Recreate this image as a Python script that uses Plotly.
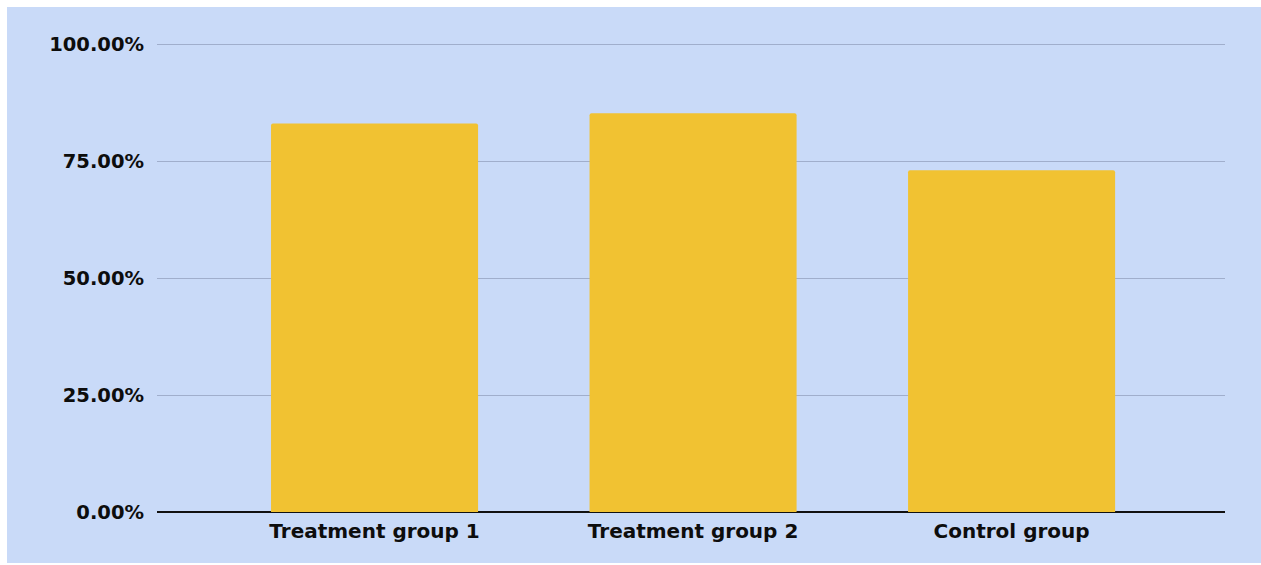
import plotly.graph_objects as go

categories = ["Treatment group 1", "Treatment group 2", "Control group"]
values = [0.830, 0.852, 0.730]
y_ticks = [0, 0.25, 0.5, 0.75, 1.0]

W, H = 1261, 565
ML, MR, MT, MB = 157, 36, 42, 53
PW, PH = W - ML - MR, H - MT - MB
Y_MAX = 1.0043

BG = "#c9daf8"
BAR = "#f1c232"
YFONT = dict(family="DejaVu Sans", size=19.5, color="#0d0d0d", weight="bold")
XFONT = dict(family="DejaVu Sans", size=20, color="#0d0d0d", weight="bold")

fig = go.Figure()
fig.add_trace(go.Bar(
    x=[0, 1, 2], y=values, width=0.65,
    marker=dict(color=BAR, line=dict(width=0), cornerradius=2),
    hoverinfo="x+y",
))


def px_x(p):
    return (p - ML) / PW


def px_y(p):
    return 1 - (p - MT) / PH


white = dict(type="rect", xref="paper", yref="paper", fillcolor="white",
             line=dict(width=0), layer="below")
fig.update_layout(
    width=W, height=H,
    margin=dict(l=ML, r=MR, t=MT, b=MB),
    paper_bgcolor=BG, plot_bgcolor=BG,
    showlegend=False,
    font=YFONT,
    shapes=[
        dict(white, x0=px_x(0), x1=px_x(7), y0=px_y(H + 5), y1=px_y(-5)),
        dict(white, x0=px_x(-5), x1=px_x(W + 5), y0=px_y(7), y1=px_y(-5)),
        dict(white, x0=px_x(-5), x1=px_x(W + 5), y0=px_y(H + 5), y1=px_y(563)),
    ],
    xaxis=dict(
        tickvals=[0, 1, 2], ticktext=categories,
        range=[-0.683, 2.670],
        showgrid=False, zeroline=False,
        showline=False, ticks="", ticklabelstandoff=5,
        tickfont=XFONT,
    ),
    yaxis=dict(
        range=[0, Y_MAX], tickvals=y_ticks, tickformat=".2%",
        showgrid=True, gridcolor="#a0aecc", gridwidth=1.3,
        zeroline=True, zerolinecolor="#111111", zerolinewidth=1.8,
        showline=False, ticks="", ticklabelstandoff=12,
        tickfont=YFONT,
    ),
)

fig.write_html("out.html")
